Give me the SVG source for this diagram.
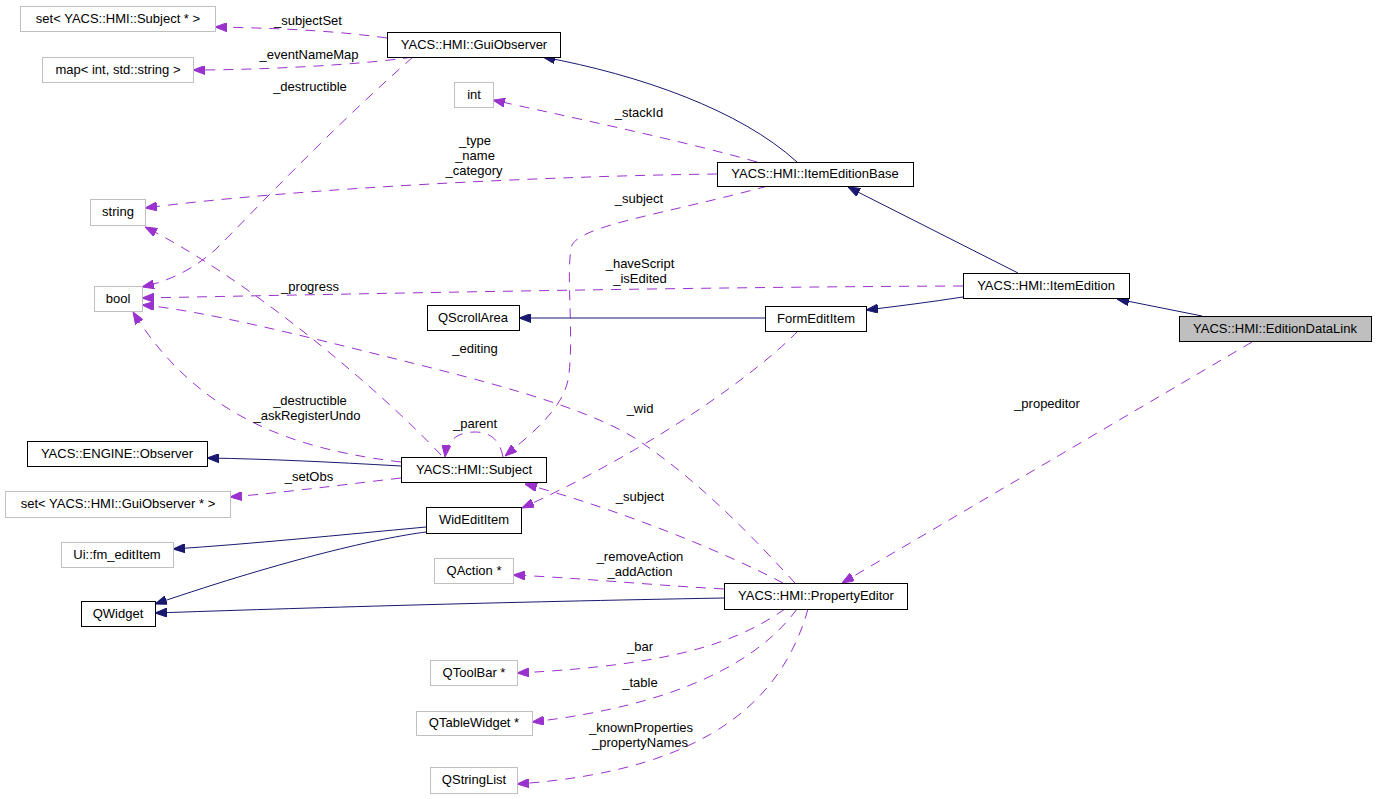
<svg xmlns="http://www.w3.org/2000/svg" width="1376" height="799" viewBox="0 0 1376 799">
<style>
text{font-family:"Liberation Sans",Arial,sans-serif;font-size:13px;fill:#000}
.n text{text-anchor:middle}
.lb{text-anchor:middle}
.bb{fill:#fff;stroke:#000;stroke-width:1}
.gb{fill:#fff;stroke:#bfbfbf;stroke-width:1}
.cur{fill:#bfbfbf;stroke:#000;stroke-width:1}
.inh{fill:none;stroke:#191970;stroke-width:1;marker-end:url(#an)}
.use{fill:none;stroke:#9a32cd;stroke-width:1;stroke-dasharray:10,8;marker-end:url(#ap)}
</style>
<defs>
<marker id="an" markerWidth="12" markerHeight="9" refX="12" refY="4.5" orient="auto" markerUnits="userSpaceOnUse"><path d="M0,0 L12,4.5 L0,9 z" fill="#191970" stroke="#191970"/></marker>
<marker id="ap" markerWidth="12" markerHeight="9" refX="12" refY="4.5" orient="auto" markerUnits="userSpaceOnUse"><path d="M0,0 L12,4.5 L0,9 z" fill="#9a32cd" stroke="#9a32cd"/></marker>
</defs>
<rect width="1376" height="799" fill="#fff"/>
<g id="connectors">
<path class="inh" d="M797,162 C740,110 640,75 543,57"/>
<path class="inh" d="M1018,273 L848,187"/>
<path class="inh" d="M1202,316 L1117,299"/>
<path class="inh" d="M963,297 C930,302 900,306 866,310"/>
<path class="inh" d="M765,318 L519,318"/>
<path class="inh" d="M401,466 C330,462 270,459 207,458"/>
<path class="inh" d="M426,527 C340,535 250,544 173,549"/>
<path class="inh" d="M426,532 C380,538 290,558 155,604"/>
<path class="inh" d="M724,598 C500,602 300,608 155,613"/>
<path class="use" d="M387,38 C330,30 270,28 215,27"/>
<path class="use" d="M413,57 C360,65 260,70 193,70"/>
<path class="use" d="M413,57 C330,130 260,205 215,250 C190,272 165,282 142,287"/>
<path class="use" d="M757,162 C680,140 560,115 493,100"/>
<path class="use" d="M717,174 C550,176 300,188 145,208"/>
<path class="use" d="M768,186 C660,215 583,225 572,245 C565,270 575,340 568,380 C562,410 530,435 505,456"/>
<path class="use" d="M963,286 C700,287 400,293 142,298"/>
<path class="use" d="M795,583 C760,545 700,480 633,437 C580,405 480,380 400,360 C300,335 200,310 142,305"/>
<path class="use" d="M441,455 C380,390 250,280 145,227"/>
<path class="use" d="M401,462 C300,450 200,420 133,312"/>
<path class="use" d="M503,457 C500,440 490,432 475,432 C458,432 447,440 445,457"/>
<path class="use" d="M401,478 C340,485 290,492 230,497"/>
<path class="use" d="M798,331 C760,370 660,445 522,508"/>
<path class="use" d="M783,583 C720,550 620,510 525,484"/>
<path class="use" d="M1252,342 L842,583"/>
<path class="use" d="M724,589 C650,585 580,578 513,575"/>
<path class="use" d="M785,609 C740,640 680,665 517,673"/>
<path class="use" d="M797,609 C760,660 680,705 532,722"/>
<path class="use" d="M808,609 C785,690 720,770 517,784"/>
<text class="lb" x="308" y="25">_subjectSet</text>
<text class="lb" x="309" y="59">_eventNameMap</text>
<text class="lb" x="310" y="91">_destructible</text>
<text class="lb" x="639" y="117">_stackId</text>
<text class="lb" x="475" y="145">_type</text>
<text class="lb" x="475" y="160">_name</text>
<text class="lb" x="474" y="175">_category</text>
<text class="lb" x="639" y="203">_subject</text>
<text class="lb" x="640" y="268">_haveScript</text>
<text class="lb" x="640" y="283">_isEdited</text>
<text class="lb" x="310" y="291">_progress</text>
<text class="lb" x="475" y="353">_editing</text>
<text class="lb" x="1047" y="408">_propeditor</text>
<text class="lb" x="640" y="413">_wid</text>
<text class="lb" x="310" y="405">_destructible</text>
<text class="lb" x="307" y="420">_askRegisterUndo</text>
<text class="lb" x="475" y="428">_parent</text>
<text class="lb" x="309" y="481">_setObs</text>
<text class="lb" x="640" y="501">_subject</text>
<text class="lb" x="640" y="561">_removeAction</text>
<text class="lb" x="640" y="576">_addAction</text>
<text class="lb" x="640" y="651">_bar</text>
<text class="lb" x="640" y="687">_table</text>
<text class="lb" x="641" y="732">_knownProperties</text>
<text class="lb" x="640" y="747">_propertyNames</text>
</g>
<g id="n_subjectset" class="n"><rect class="gb" x="20.5" y="6.5" width="195" height="25"/><text x="118" y="22.5">set&lt; YACS::HMI::Subject * &gt;</text></g>
<g id="n_guiobserver" class="n"><rect class="bb" x="387.5" y="32.5" width="173" height="25"/><text x="474" y="48.5">YACS::HMI::GuiObserver</text></g>
<g id="n_map" class="n"><rect class="gb" x="42.5" y="57.5" width="151" height="25"/><text x="118" y="73.5">map&lt; int, std::string &gt;</text></g>
<g id="n_int" class="n"><rect class="gb" x="454.5" y="82.5" width="39" height="25"/><text x="474" y="98.5">int</text></g>
<g id="n_itemeditionbase" class="n"><rect class="bb" x="717.5" y="162.5" width="196" height="24"/><text x="815" y="177.5">YACS::HMI::ItemEditionBase</text></g>
<g id="n_string" class="n"><rect class="gb" x="90.5" y="199.5" width="55" height="26"/><text x="118" y="216">string</text></g>
<g id="n_itemedition" class="n"><rect class="bb" x="963.5" y="273.5" width="166" height="25"/><text x="1046" y="289.5">YACS::HMI::ItemEdition</text></g>
<g id="n_bool" class="n"><rect class="gb" x="94.5" y="286.5" width="48" height="25"/><text x="118" y="302.5">bool</text></g>
<g id="n_qscrollarea" class="n"><rect class="bb" x="427.5" y="305.5" width="92" height="25"/><text x="473" y="321.5">QScrollArea</text></g>
<g id="n_formedititem" class="n"><rect class="bb" x="765.5" y="306.5" width="101" height="25"/><text x="816" y="322.5">FormEditItem</text></g>
<g id="n_editiondatalink" class="n"><rect class="cur" x="1179.5" y="316.5" width="192" height="25"/><text x="1275" y="332.5">YACS::HMI::EditionDataLink</text></g>
<g id="n_engineobserver" class="n"><rect class="bb" x="27.5" y="441.5" width="180" height="25"/><text x="117" y="457.5">YACS::ENGINE::Observer</text></g>
<g id="n_subject" class="n"><rect class="bb" x="401.5" y="457.5" width="145" height="25"/><text x="474" y="473.5">YACS::HMI::Subject</text></g>
<g id="n_setobs" class="n"><rect class="gb" x="5.5" y="491.5" width="225" height="26"/><text x="118" y="508">set&lt; YACS::HMI::GuiObserver * &gt;</text></g>
<g id="n_widedititem" class="n"><rect class="bb" x="426.5" y="507.5" width="95" height="26"/><text x="474" y="524">WidEditItem</text></g>
<g id="n_fmedititem" class="n"><rect class="gb" x="61.5" y="542.5" width="112" height="25"/><text x="117" y="558.5">Ui::fm_editItem</text></g>
<g id="n_qaction" class="n"><rect class="gb" x="434.5" y="558.5" width="79" height="25"/><text x="474" y="574.5">QAction *</text></g>
<g id="n_propertyeditor" class="n"><rect class="bb" x="724.5" y="583.5" width="183" height="26"/><text x="816" y="600">YACS::HMI::PropertyEditor</text></g>
<g id="n_qwidget" class="n"><rect class="bb" x="81.5" y="601.5" width="74" height="25"/><text x="118" y="617.5">QWidget</text></g>
<g id="n_qtoolbar" class="n"><rect class="gb" x="430.5" y="660.5" width="87" height="25"/><text x="474" y="676.5">QToolBar *</text></g>
<g id="n_qtablewidget" class="n"><rect class="gb" x="416.5" y="711.5" width="116" height="24"/><text x="474" y="727">QTableWidget *</text></g>
<g id="n_qstringlist" class="n"><rect class="gb" x="430.5" y="767.5" width="87" height="26"/><text x="474" y="784">QStringList</text></g>
</svg>
